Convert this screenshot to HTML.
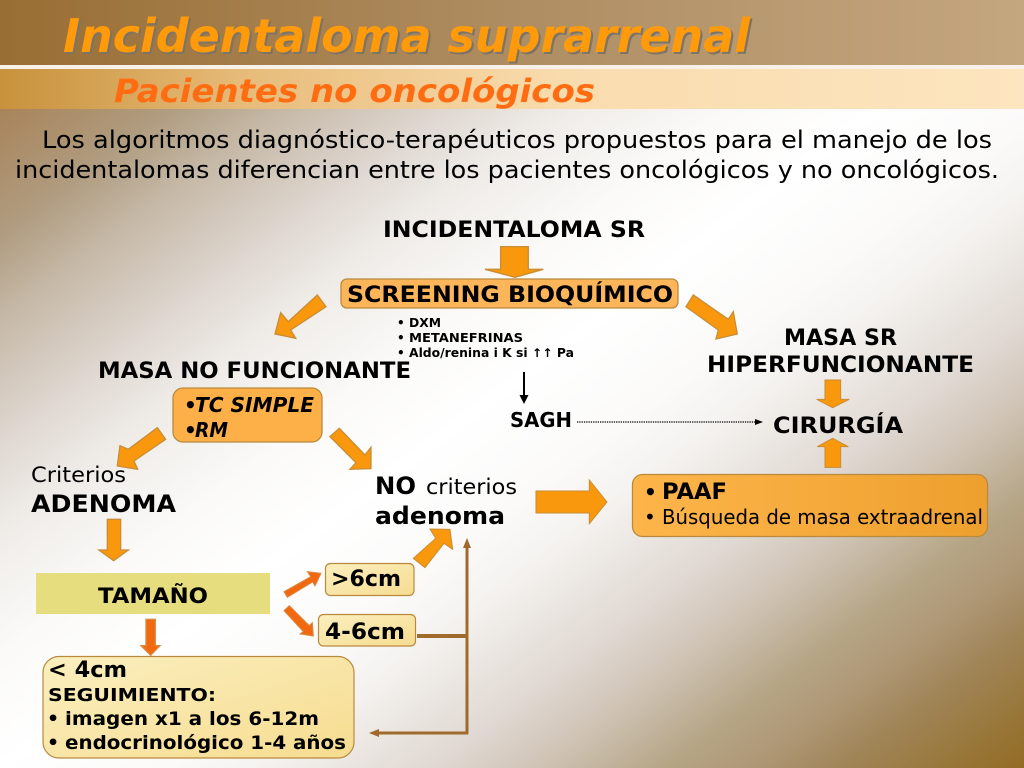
<!DOCTYPE html>
<html lang="es">
<head>
<meta charset="utf-8">
<title>Incidentaloma suprarrenal</title>
<style>
html,body{margin:0;padding:0;background:#fff;width:1024px;height:768px;overflow:hidden}
svg{display:block}
text{font-family:"DejaVu Sans","Liberation Sans",sans-serif;fill:#000}
.b{font-weight:bold}
.or{fill:#f9980c;stroke:#c98d35;stroke-width:3}
.red{fill:#f2680f;stroke:#d98a45;stroke-width:2}
</style>
</head>
<body>
<svg width="1024" height="768" viewBox="0 0 1024 768" xmlns="http://www.w3.org/2000/svg">
<defs>
<linearGradient id="bg" gradientUnits="userSpaceOnUse" x1="0" y1="0" x2="737" y2="983">
<stop offset="0" stop-color="#a07a48"/>
<stop offset=".072" stop-color="#a8845a"/>
<stop offset=".154" stop-color="#b09c80"/>
<stop offset=".208" stop-color="#c5b8a6"/>
<stop offset=".291" stop-color="#e0d8d2"/>
<stop offset=".346" stop-color="#efece8"/>
<stop offset=".428" stop-color="#fbfaf8"/>
<stop offset=".5" stop-color="#ffffff"/>
<stop offset=".58" stop-color="#fbfaf9"/>
<stop offset=".625" stop-color="#f5f3f0"/>
<stop offset=".711" stop-color="#e0d8d2"/>
<stop offset=".76" stop-color="#d0c4b6"/>
<stop offset=".825" stop-color="#b5a585"/>
<stop offset=".87" stop-color="#ae9674"/>
<stop offset=".909" stop-color="#a08558"/>
<stop offset=".95" stop-color="#9a7a40"/>
<stop offset="1" stop-color="#936b24"/>
</linearGradient>
<linearGradient id="h1" x1="0" x2="1" y1="0" y2="0">
<stop offset="0" stop-color="#996e34"/>
<stop offset=".5" stop-color="#ae8d62"/>
<stop offset="1" stop-color="#c4a67f"/>
</linearGradient>
<linearGradient id="h2" x1="0" x2="1" y1="0" y2="0">
<stop offset="0" stop-color="#c8923c"/>
<stop offset=".25" stop-color="#e8bd7c"/>
<stop offset=".55" stop-color="#f9dcae"/>
<stop offset="1" stop-color="#fde5bf"/>
</linearGradient>
<linearGradient id="pale" x1="0" x2="1" y1="0" y2="1">
<stop offset="0" stop-color="#fbefbf"/>
<stop offset="1" stop-color="#f6dc90"/>
</linearGradient>
<linearGradient id="oran" x1="0" x2="1" y1="0" y2="0">
<stop offset="0" stop-color="#fdb54a"/>
<stop offset="1" stop-color="#eea02e"/>
</linearGradient>
</defs>

<rect width="1024" height="768" fill="url(#bg)"/>
<rect width="1024" height="65" fill="url(#h1)"/>
<rect y="65" width="1024" height="4" fill="#f7f1ea"/>
<rect y="69" width="1024" height="40" fill="url(#h2)"/>

<text x="65" y="54" font-size="46" class="b" font-style="italic" style="fill:#7d7468" textLength="687" lengthAdjust="spacingAndGlyphs">Incidentaloma suprarrenal</text>
<text x="63" y="52" font-size="46" class="b" font-style="italic" style="fill:#ff9a0a" textLength="687" lengthAdjust="spacingAndGlyphs">Incidentaloma suprarrenal</text>
<text x="114" y="102" font-size="32" class="b" font-style="italic" style="fill:#ff6c12" textLength="481" lengthAdjust="spacingAndGlyphs">Pacientes no oncológicos</text>

<text x="42" y="148" font-size="24" textLength="950" lengthAdjust="spacingAndGlyphs">Los algoritmos diagnóstico-terapéuticos propuestos para el manejo de los</text>
<text x="15" y="178" font-size="24" textLength="984" lengthAdjust="spacingAndGlyphs">incidentalomas diferencian entre los pacientes oncológicos y no oncológicos.</text>

<text x="383" y="237" font-size="22" class="b" textLength="262" lengthAdjust="spacingAndGlyphs">INCIDENTALOMA SR</text>

<!-- large orange arrows, coordinates from 3x crops -->
<g transform="translate(260,210) scale(.3333)">
<polygon class="or" style="stroke-width:4" points="722,110 805,110 805,178 850,178 765,202 675,178 722,178"/>
<polygon class="or" style="stroke-width:4" points="172,255 198,290 92,360 107,385 45,372 62,308 85,335"/>
<polygon class="or" style="stroke-width:4" points="1300,255 1278,290 1375,360 1368,387 1432,372 1420,305 1405,328"/>
</g>
<g transform="translate(0,380) scale(.3333)">
<polygon class="or" style="stroke-width:4" points="472,143 385,208 360,197 352,258 413,268 402,243 497,178"/>
<polygon class="or" style="stroke-width:4" points="1018,145 990,170 1068,248 1050,268 1113,266 1113,202 1095,225"/>
<polygon class="or" style="stroke-width:4" points="322,418 362,418 362,510 385,510 341,542 297,510 322,510"/>
<polygon class="red" style="stroke-width:4" points="438,718 466,718 466,797 480,797 452,826 423,797 438,797"/>
</g>
<g transform="translate(270,460) scale(.3333)">
<polygon class="or" style="stroke-width:3" points="798,93 958,93 958,60 1011,126 958,191 958,159 798,159"/>
<polygon class="or" style="stroke-width:3" points="430,295 497,235 480,207 540,208 548,268 522,250 465,323"/>
<polygon class="red" style="stroke-width:3" points="42,395 122,350 112,335 153,340 135,378 128,366 52,412"/>
<polygon class="red" style="stroke-width:3" points="58,437 42,452 100,515 90,522 130,528 127,488 118,497"/>
</g>
<g transform="translate(620,290) scale(.3333)">
<polygon class="or" style="stroke-width:3" points="615,270 662,270 662,328 688,328 638,353 590,328 615,328"/>
<polygon class="or" style="stroke-width:3" points="638,445 685,470 662,470 662,532 615,532 615,470 592,470"/>
</g>

<!-- screening -->
<rect x="341" y="279" width="337" height="29" rx="6" fill="#fdb55a" stroke="#b98a3e" stroke-width="1.3"/>
<text x="347" y="302" font-size="22" class="b" textLength="326" lengthAdjust="spacingAndGlyphs">SCREENING BIOQUÍMICO</text>

<text x="397" y="327" font-size="12" class="b">•</text>
<text x="409" y="327" font-size="12" class="b" textLength="32" lengthAdjust="spacingAndGlyphs">DXM</text>
<text x="397" y="342" font-size="12" class="b">•</text>
<text x="409" y="342" font-size="12" class="b" textLength="114" lengthAdjust="spacingAndGlyphs">METANEFRINAS</text>
<text x="397" y="357" font-size="12" class="b">•</text>
<text x="409" y="357" font-size="12" class="b" textLength="165" lengthAdjust="spacingAndGlyphs">Aldo/renina i K si ↑↑ Pa</text>

<text x="98" y="378" font-size="22" class="b" textLength="313" lengthAdjust="spacingAndGlyphs">MASA NO FUNCIONANTE</text>
<text x="784" y="345" font-size="22" class="b" textLength="113" lengthAdjust="spacingAndGlyphs">MASA SR</text>
<text x="707" y="372" font-size="22" class="b" textLength="267" lengthAdjust="spacingAndGlyphs">HIPERFUNCIONANTE</text>

<!-- black arrow & SAGH -->
<line x1="524" y1="372" x2="524" y2="398" stroke="#000" stroke-width="2"/>
<polygon points="519.5,395 528.5,395 524,404" fill="#000"/>
<text x="510" y="427" font-size="20" class="b" textLength="62" lengthAdjust="spacingAndGlyphs">SAGH</text>
<line x1="577" y1="422" x2="756" y2="422" stroke="#000" stroke-width="1.3" stroke-dasharray="1.3 1"/>
<polygon points="755,419 763,422 755,425" fill="#000"/>
<text x="773" y="433" font-size="22" class="b" textLength="130" lengthAdjust="spacingAndGlyphs">CIRURGÍA</text>

<!-- TC box -->
<rect x="173" y="388" width="149" height="54" rx="10" fill="#fdb047" stroke="#b98a3e" stroke-width="1.3"/>
<text x="184" y="412" font-size="20" class="b" font-style="italic">•</text>
<text x="195" y="412" font-size="20" class="b" font-style="italic" textLength="119" lengthAdjust="spacingAndGlyphs">TC SIMPLE</text>
<text x="184" y="437" font-size="20" class="b" font-style="italic">•</text>
<text x="195" y="437" font-size="20" class="b" font-style="italic" textLength="33" lengthAdjust="spacingAndGlyphs">RM</text>

<text x="31" y="482" font-size="21" textLength="95" lengthAdjust="spacingAndGlyphs">Criterios</text>
<text x="31" y="512" font-size="24" class="b" textLength="145" lengthAdjust="spacingAndGlyphs">ADENOMA</text>

<text x="375" y="494" font-size="24" class="b" textLength="41" lengthAdjust="spacingAndGlyphs">NO</text>
<text x="426" y="494" font-size="21" textLength="91" lengthAdjust="spacingAndGlyphs">criterios</text>
<text x="375" y="524" font-size="24" class="b" textLength="130" lengthAdjust="spacingAndGlyphs">adenoma</text>

<!-- PAAF -->
<rect x="632.5" y="474.5" width="355" height="62" rx="10" fill="url(#oran)" stroke="#b98a3e" stroke-width="1.3"/>
<text x="644" y="499" font-size="20" class="b">•</text>
<text x="662" y="499" font-size="22" class="b" textLength="65" lengthAdjust="spacingAndGlyphs">PAAF</text>
<text x="644" y="524" font-size="20">•</text>
<text x="662" y="524" font-size="20" textLength="321" lengthAdjust="spacingAndGlyphs">Búsqueda de masa extraadrenal</text>

<!-- TAMAÑO -->
<rect x="36" y="573" width="234" height="41" fill="#e6dd7e"/>
<text x="98" y="603" font-size="21" class="b" textLength="110" lengthAdjust="spacingAndGlyphs">TAMAÑO</text>

<!-- size boxes -->
<rect x="325.5" y="563.5" width="88.5" height="32" rx="5" fill="url(#pale)" stroke="#b98a3e" stroke-width="1.2"/>
<text x="331" y="586" font-size="22" class="b" textLength="70" lengthAdjust="spacingAndGlyphs">&gt;6cm</text>
<rect x="318.5" y="614.5" width="97" height="31.5" rx="5" fill="url(#pale)" stroke="#b98a3e" stroke-width="1.2"/>
<text x="325" y="639" font-size="22" class="b" textLength="80" lengthAdjust="spacingAndGlyphs">4-6cm</text>

<!-- <4cm -->
<rect x="43" y="656.5" width="311" height="101.5" rx="16" fill="url(#pale)" stroke="#b98a3e" stroke-width="1.2"/>
<text x="48" y="677" font-size="22" class="b" textLength="79" lengthAdjust="spacingAndGlyphs">&lt; 4cm</text>
<text x="48" y="701" font-size="18" class="b" textLength="168" lengthAdjust="spacingAndGlyphs">SEGUIMIENTO:</text>
<text x="47" y="725" font-size="19" class="b">•</text>
<text x="65" y="725" font-size="19" class="b" textLength="254" lengthAdjust="spacingAndGlyphs">imagen x1 a los 6-12m</text>
<text x="47" y="749" font-size="19" class="b">•</text>
<text x="65" y="749" font-size="19" class="b" textLength="281" lengthAdjust="spacingAndGlyphs">endocrinológico 1-4 años</text>

<!-- brown connector -->
<g fill="none" stroke="#a06a2c">
<line x1="467" y1="545" x2="467" y2="734" stroke-width="3"/>
<line x1="417" y1="636" x2="467" y2="636" stroke-width="4"/>
<line x1="376" y1="733" x2="468" y2="733" stroke-width="3"/>
</g>
<polygon points="467,538 471,548 463,548" fill="#a06a2c"/>
<polygon points="369,733 379,729 379,737" fill="#a06a2c"/>
</svg>
</body>
</html>
